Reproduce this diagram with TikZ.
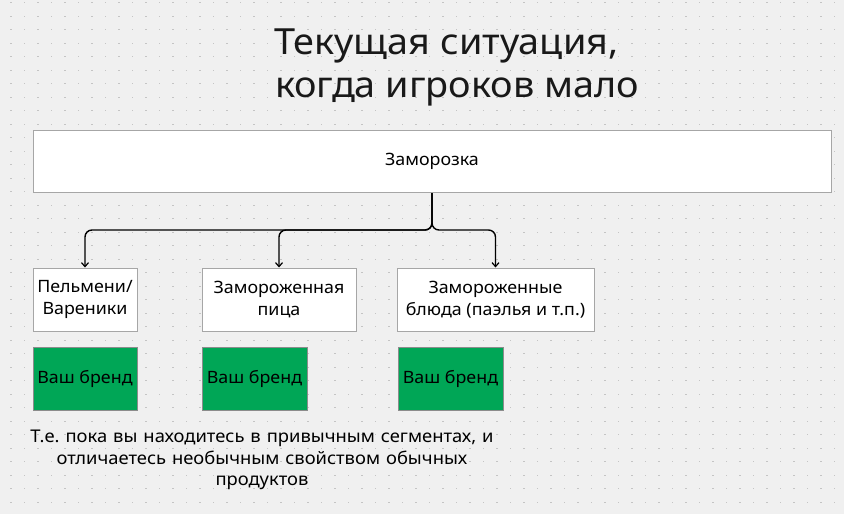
\documentclass[tikz,border=0pt]{standalone}
\usepackage{fontspec}
\setmainfont{Noto Sans}[FakeStretch=1.05]
\newfontfamily\notefont{Noto Sans}[FakeStretch=1.05,WordSpace=1.25]
\usetikzlibrary{arrows.meta}
\frenchspacing
\definecolor{bgc}{HTML}{F0F0F0}
\definecolor{dotc}{HTML}{C4C4C4}
\definecolor{boxline}{HTML}{A6A6A6}
\definecolor{brand}{HTML}{00A656}
\definecolor{brandline}{HTML}{8C8C8C}
\tikzset{
  box/.style={draw=boxline, line width=1pt, fill=white, inner sep=0pt, align=center,
    font=\fontsize{17}{21.5}\selectfont},
  brandbox/.style={draw=brandline, line width=1pt, fill=brand, inner sep=0pt, align=center,
    minimum width=104pt, minimum height=63pt, font=\fontsize{17}{21.5}\selectfont},
  conn/.style={draw=black, line width=1.4pt, rounded corners=7pt,
    -{Straight Barb[length=4pt,width=7pt,line width=1.2pt]}},
  titletext/.style={inner sep=0pt, font=\fontsize{36}{43}\selectfont, text=black!90},
}
\begin{document}
\begin{tikzpicture}[x=1pt,y=-1pt]
\fill[bgc] (0,0) rectangle (844,514);
\useasboundingbox (0,0) rectangle (844,514);
\foreach \i in {0,...,62}{
  \foreach \j in {0,...,37}{
    \fill[dotc] ({11+13.5*\i-0.6},{2.7+13.5*\j-0.6}) rectangle ++(1.2,1.2);
  }
}
\node[titletext, anchor=base west] (title1) at (274,54) {Текущая ситуация,};
\node[titletext, anchor=base west] (title2) at (275,97) {когда игроков мало};

\node[box, minimum width=798pt, minimum height=62pt] (top) at (432,161.5) {Заморозка};

\node[box, minimum width=104pt, minimum height=63pt] (b1) at (85,299.5) {Пельмени/\\Вареники};
\node[box, minimum width=154pt, minimum height=63pt] (b2) at (279,299.5) {Замороженная\\пица};
\node[box, minimum width=197pt, minimum height=63pt] (b3) at (495.5,299.5) {Замороженные\\блюда (паэлья и т.п.)};

\coordinate (j) at (432,230);
\draw[conn] (top.south) -- (j) -| (b1.north);
\draw[conn] (top.south) -- (j) -| (b2.north);
\draw[conn] (top.south) -- (j) -| (b3.north);

\node[brandbox] (g1) at (85,378.5) {Ваш бренд};
\node[brandbox, minimum width=105pt] (g2) at (254.5,378.5) {Ваш бренд};
\node[brandbox, minimum width=105pt] (g3) at (450.5,378.5) {Ваш бренд};

\node[inner sep=0pt, align=center, font=\notefont\fontsize{17.5}{21.5}\selectfont] (note) at (262,460)
  {Т.е. пока вы находитесь в привычным сегментах, и\\отличаетесь необычным свойством обычных\\продуктов};
\end{tikzpicture}
\end{document}
